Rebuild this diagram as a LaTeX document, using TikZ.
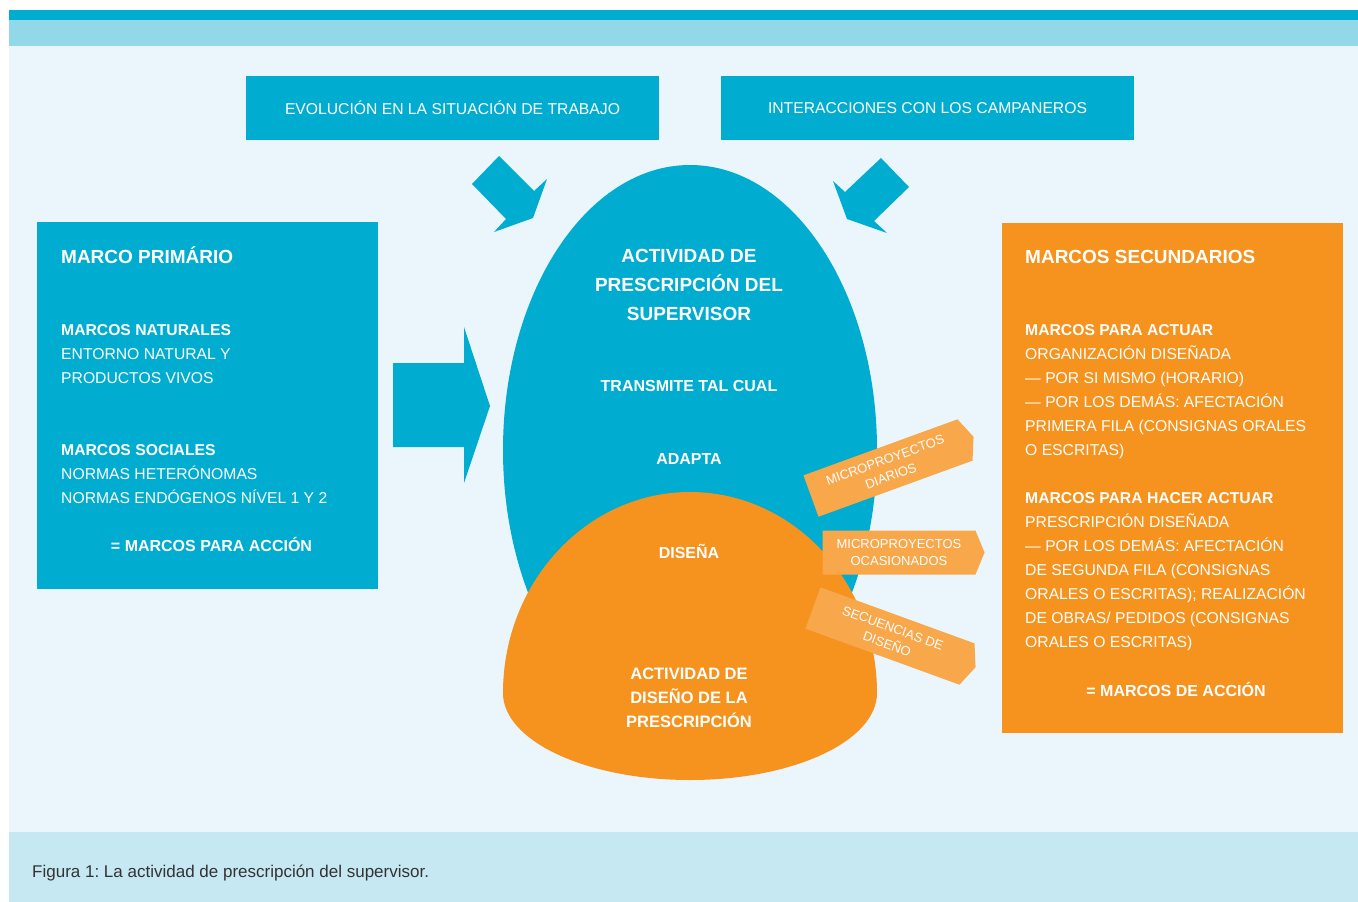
\documentclass[tikz,border=0pt]{standalone}
\usepackage{fontspec}
\setmainfont{Liberation Sans}
\usetikzlibrary{shapes.symbols}
\definecolor{cblue}{RGB}{0,172,208}
\definecolor{cband}{RGB}{146,216,233}
\definecolor{cpanel}{RGB}{234,246,252}
\definecolor{ccap}{RGB}{198,232,243}
\definecolor{corange}{RGB}{246,146,30}
\definecolor{ctag}{RGB}{248,167,75}
\definecolor{ctext}{RGB}{51,51,51}
\frenchspacing
\begin{document}
\begin{tikzpicture}[x=1pt,y=-1pt,
		every node/.style={inner sep=0pt,text=white},
		topbox/.style={fill=cblue,minimum width=413pt,minimum height=64pt,font=\fontsize{15.7}{18}\selectfont},
		panel/.style={anchor=north west,minimum width=341pt},
		title/.style={anchor=base west,font=\bfseries\fontsize{19}{24}\selectfont},
		body/.style={anchor=base west,align=left,font=\fontsize{15.7}{24}\selectfont},
		total/.style={anchor=base,font=\bfseries\fontsize{16}{24}\selectfont},
		inner/.style={anchor=base,align=center,font=\bfseries\fontsize{16}{24}\selectfont},
		tag/.style={signal,signal to=east,signal pointer angle=135,fill=ctag,
			minimum height=44pt,minimum width=173pt,align=center,font=\fontsize{13}{17}\selectfont}]
\useasboundingbox (0,0) rectangle (1358,902);
\fill[white] (0,0) rectangle (1358,902);
\fill[cblue] (9,10) rectangle (1358,20);
\fill[cband] (9,20) rectangle (1358,46);
\fill[cpanel] (9,46) rectangle (1358,832);
\fill[ccap] (9,832) rectangle (1358,902);

\node[topbox] (evol) at (452.5,108) {EVOLUCIÓN EN LA SITUACIÓN DE TRABAJO};
\node[topbox] (inter) at (927.5,108) {INTERACCIONES CON LOS CAMPANEROS};
\fill[cblue] (472,184) -- (499,156) -- (534,191) -- (547,179) -- (533,218) -- (494,232) -- (506,219) -- cycle;
\fill[cblue] (909,187) -- (881,158) -- (845,192) -- (833,181) -- (847,219) -- (887,233) -- (874,221) -- cycle;
\fill[cblue] (393,363) -- (464,363) -- (464,327) -- (490,406) -- (464,483) -- (464,447) -- (393,447) -- cycle;

\node[panel,fill=cblue,minimum height=367pt] (primario) at (37,222) {};
\node[title] (tprim) at (61,263) {MARCO PRIMÁRIO};
\node[body] (natur) at (61,383) {\textbf{MARCOS NATURALES}\\ENTORNO NATURAL Y\\PRODUCTOS VIVOS};
\node[body] (social) at (61,503) {\textbf{MARCOS SOCIALES}\\NORMAS HETERÓNOMAS\\NORMAS ENDÓGENOS NÍVEL 1 Y 2};
\node[total] (accion) at (211.5,551) {= MARCOS PARA ACCIÓN};

\node[panel,fill=corange,minimum height=510pt] (secund) at (1002,223) {};
\node[title] (tsec) at (1025,263) {MARCOS SECUNDARIOS};
\node[body] (actuar) at (1025,455) {\textbf{MARCOS PARA ACTUAR}\\ORGANIZACIÓN DISEÑADA\\— POR SI MISMO (HORARIO)\\— POR LOS DEMÁS: AFECTACIÓN\\PRIMERA FILA (CONSIGNAS ORALES\\O ESCRITAS)};
\node[body] (hacer) at (1025,647) {\textbf{MARCOS PARA HACER ACTUAR}\\PRESCRIPCIÓN DISEÑADA\\— POR LOS DEMÁS: AFECTACIÓN\\DE SEGUNDA FILA (CONSIGNAS\\ORALES O ESCRITAS); REALIZACIÓN\\DE OBRAS/ PEDIDOS (CONSIGNAS\\ORALES O ESCRITAS)};
\node[total] (deaccion) at (1176,696) {= MARCOS DE ACCIÓN};

\fill[cblue] (690,450) ellipse [x radius=187, y radius=285];
\fill[corange] (503,693) arc [start angle=180, end angle=360, x radius=187, y radius=201]
	arc [start angle=0, end angle=180, x radius=187, y radius=87] -- cycle;
\node[inner,font=\bfseries\fontsize{19}{29}\selectfont] (presc) at (689,320) {ACTIVIDAD DE\\PRESCRIPCIÓN DEL\\SUPERVISOR};
\node[inner] (transm) at (689,391.7) {TRANSMITE TAL CUAL};
\node[inner] (adapta) at (689,464.7) {ADAPTA};
\node[inner] (disena) at (689,558.7) {DISEÑA};
\node[inner,font=\bfseries\fontsize{16.5}{24}\selectfont] (diseno) at (689,727) {ACTIVIDAD DE\\DISEÑO DE LA\\PRESCRIPCIÓN};

\node[tag,rotate=20] (diarios) at (888,468) {MICROPROYECTOS\\DIARIOS};
\node[tag,minimum width=162pt] (ocasion) at (899,552.5) {MICROPROYECTOS\\OCASIONADOS};
\node[tag,rotate=-20] (secuen) at (890,636) {SECUENCIAS DE\\DISEÑO};

\node[anchor=base west,text=ctext,font=\fontsize{17}{20}\selectfont] (caption) at (32,877) {Figura 1: La actividad de prescripción del supervisor.};
\end{tikzpicture}
\end{document}
